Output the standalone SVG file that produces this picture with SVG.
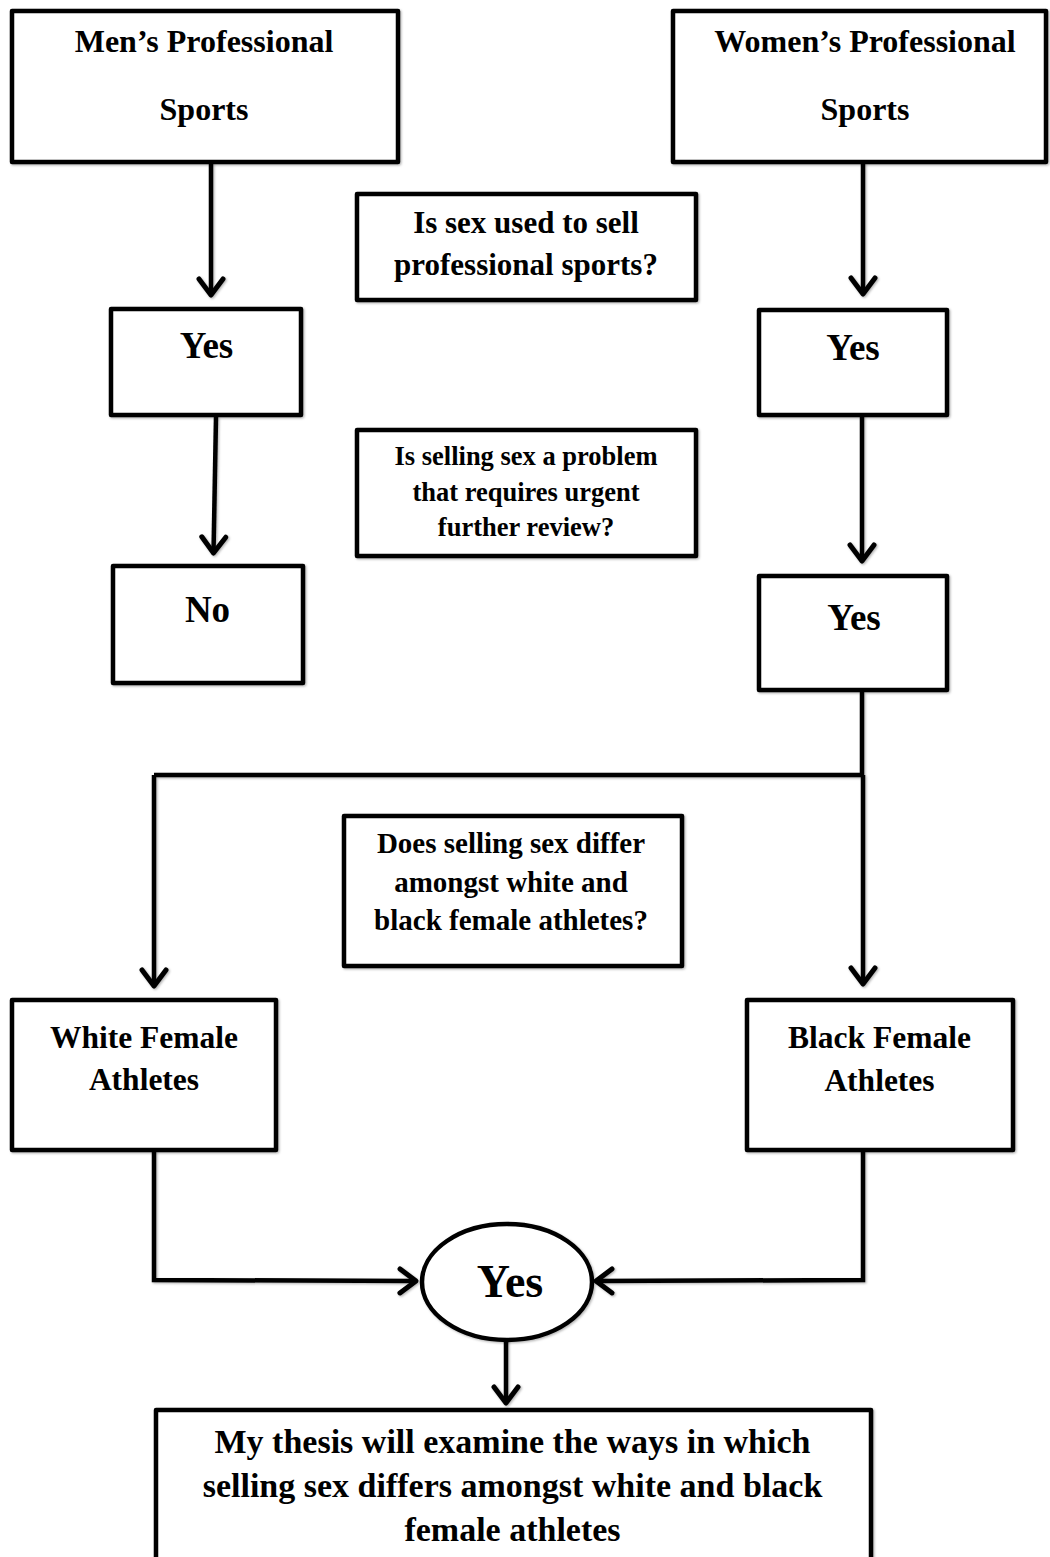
<svg xmlns="http://www.w3.org/2000/svg" width="1050" height="1557" viewBox="0 0 1050 1557">
<style>
  .box { fill: #fff; stroke: #000; stroke-width: 4.5; stroke-linejoin: round; filter: url(#sh); }
  .t { font-family: "Liberation Serif", "Times New Roman", serif; font-weight: bold; text-anchor: middle; fill: #000; }
  .con { fill: none; stroke: #000; stroke-width: 4.5; stroke-linejoin: miter; }
  .arr { marker-end: url(#ah); }
</style>
<defs>
  <filter id="sh" x="-5%" y="-5%" width="110%" height="110%">
    <feDropShadow dx="1.2" dy="1.2" stdDeviation="1" flood-color="#000" flood-opacity="0.3"/>
  </filter>
  <marker id="ah" markerUnits="userSpaceOnUse" orient="auto" refX="0" refY="0" markerWidth="40" markerHeight="40" overflow="visible">
    <path d="M-16,-12 L0,0 L-16,12" fill="none" stroke="#000" stroke-width="5" stroke-linecap="round" stroke-linejoin="round"/>
  </marker>
</defs>
<rect width="1050" height="1557" fill="#fff"/>

<g id="connectors" filter="url(#sh)">
  <line class="con arr" x1="211" y1="163" x2="211" y2="295"/>
  <line class="con arr" x1="863" y1="163" x2="863" y2="294"/>
  <line class="con arr" x1="216" y1="417" x2="213.5" y2="553"/>
  <line class="con arr" x1="862" y1="416" x2="862" y2="561"/>
  <polyline class="con" points="862,692 862,775 154,775"/>
  <line class="con arr" x1="154" y1="775" x2="154" y2="986"/>
  <line class="con arr" x1="863" y1="775" x2="863" y2="984"/>
  <polyline class="con arr" points="154,1151 154,1280 416,1281"/>
  <polyline class="con arr" points="863,1151 863,1280 596,1281"/>
  <line class="con arr" x1="506" y1="1340" x2="506" y2="1403"/>
</g>

<g id="mens">
  <rect class="box" x="12" y="11" width="386" height="151"/>
  <text class="t" x="204" y="52" font-size="32">Men’s Professional</text>
  <text class="t" x="204" y="120" font-size="32">Sports</text>
</g>

<g id="womens">
  <rect class="box" x="673" y="11" width="373" height="151"/>
  <text class="t" x="865" y="52" font-size="32">Women’s Professional</text>
  <text class="t" x="865" y="120" font-size="32">Sports</text>
</g>

<g id="q1">
  <rect class="box" x="357" y="194" width="339" height="106"/>
  <text class="t" x="526" y="233" font-size="31">Is sex used to sell</text>
  <text class="t" x="526" y="275" font-size="31">professional sports?</text>
</g>

<g id="yesLeft">
  <rect class="box" x="111" y="309" width="190" height="106"/>
  <text class="t" x="206.5" y="358" font-size="37">Yes</text>
</g>

<g id="yesRight1">
  <rect class="box" x="759" y="310" width="188" height="105"/>
  <text class="t" x="853" y="360" font-size="37">Yes</text>
</g>

<g id="q2">
  <rect class="box" x="357" y="430" width="339" height="126"/>
  <text class="t" x="526" y="465" font-size="26.5">Is selling sex a problem</text>
  <text class="t" x="526" y="501" font-size="26.5">that requires urgent</text>
  <text class="t" x="526" y="536" font-size="26.5">further review?</text>
</g>

<g id="no">
  <rect class="box" x="113" y="566" width="190" height="117"/>
  <text class="t" x="207.5" y="622" font-size="37">No</text>
</g>

<g id="yesRight2">
  <rect class="box" x="759" y="576" width="188" height="114"/>
  <text class="t" x="854" y="630" font-size="37">Yes</text>
</g>

<g id="q3">
  <rect class="box" x="344" y="816" width="338" height="150"/>
  <text class="t" x="511" y="853" font-size="29">Does selling sex differ</text>
  <text class="t" x="511" y="892" font-size="29">amongst white and</text>
  <text class="t" x="511" y="930" font-size="29">black female athletes?</text>
</g>

<g id="white">
  <rect class="box" x="12" y="1000" width="264" height="150"/>
  <text class="t" x="144" y="1048" font-size="31.5">White Female</text>
  <text class="t" x="144" y="1090" font-size="31.5">Athletes</text>
</g>

<g id="black">
  <rect class="box" x="747" y="1000" width="266" height="150"/>
  <text class="t" x="879.5" y="1048" font-size="31.5">Black Female</text>
  <text class="t" x="879.5" y="1091" font-size="31.5">Athletes</text>
</g>

<g id="yesOval">
  <ellipse class="box" cx="507" cy="1282" rx="85" ry="58"/>
  <text class="t" x="510" y="1297" font-size="46">Yes</text>
</g>

<g id="thesis">
  <rect class="box" x="156" y="1410" width="715" height="160"/>
  <text class="t" x="512.5" y="1453" font-size="34">My thesis will examine the ways in which</text>
  <text class="t" x="512.5" y="1497" font-size="34">selling sex differs amongst white and black</text>
  <text class="t" x="512.5" y="1541" font-size="34">female athletes</text>
</g>
</svg>
